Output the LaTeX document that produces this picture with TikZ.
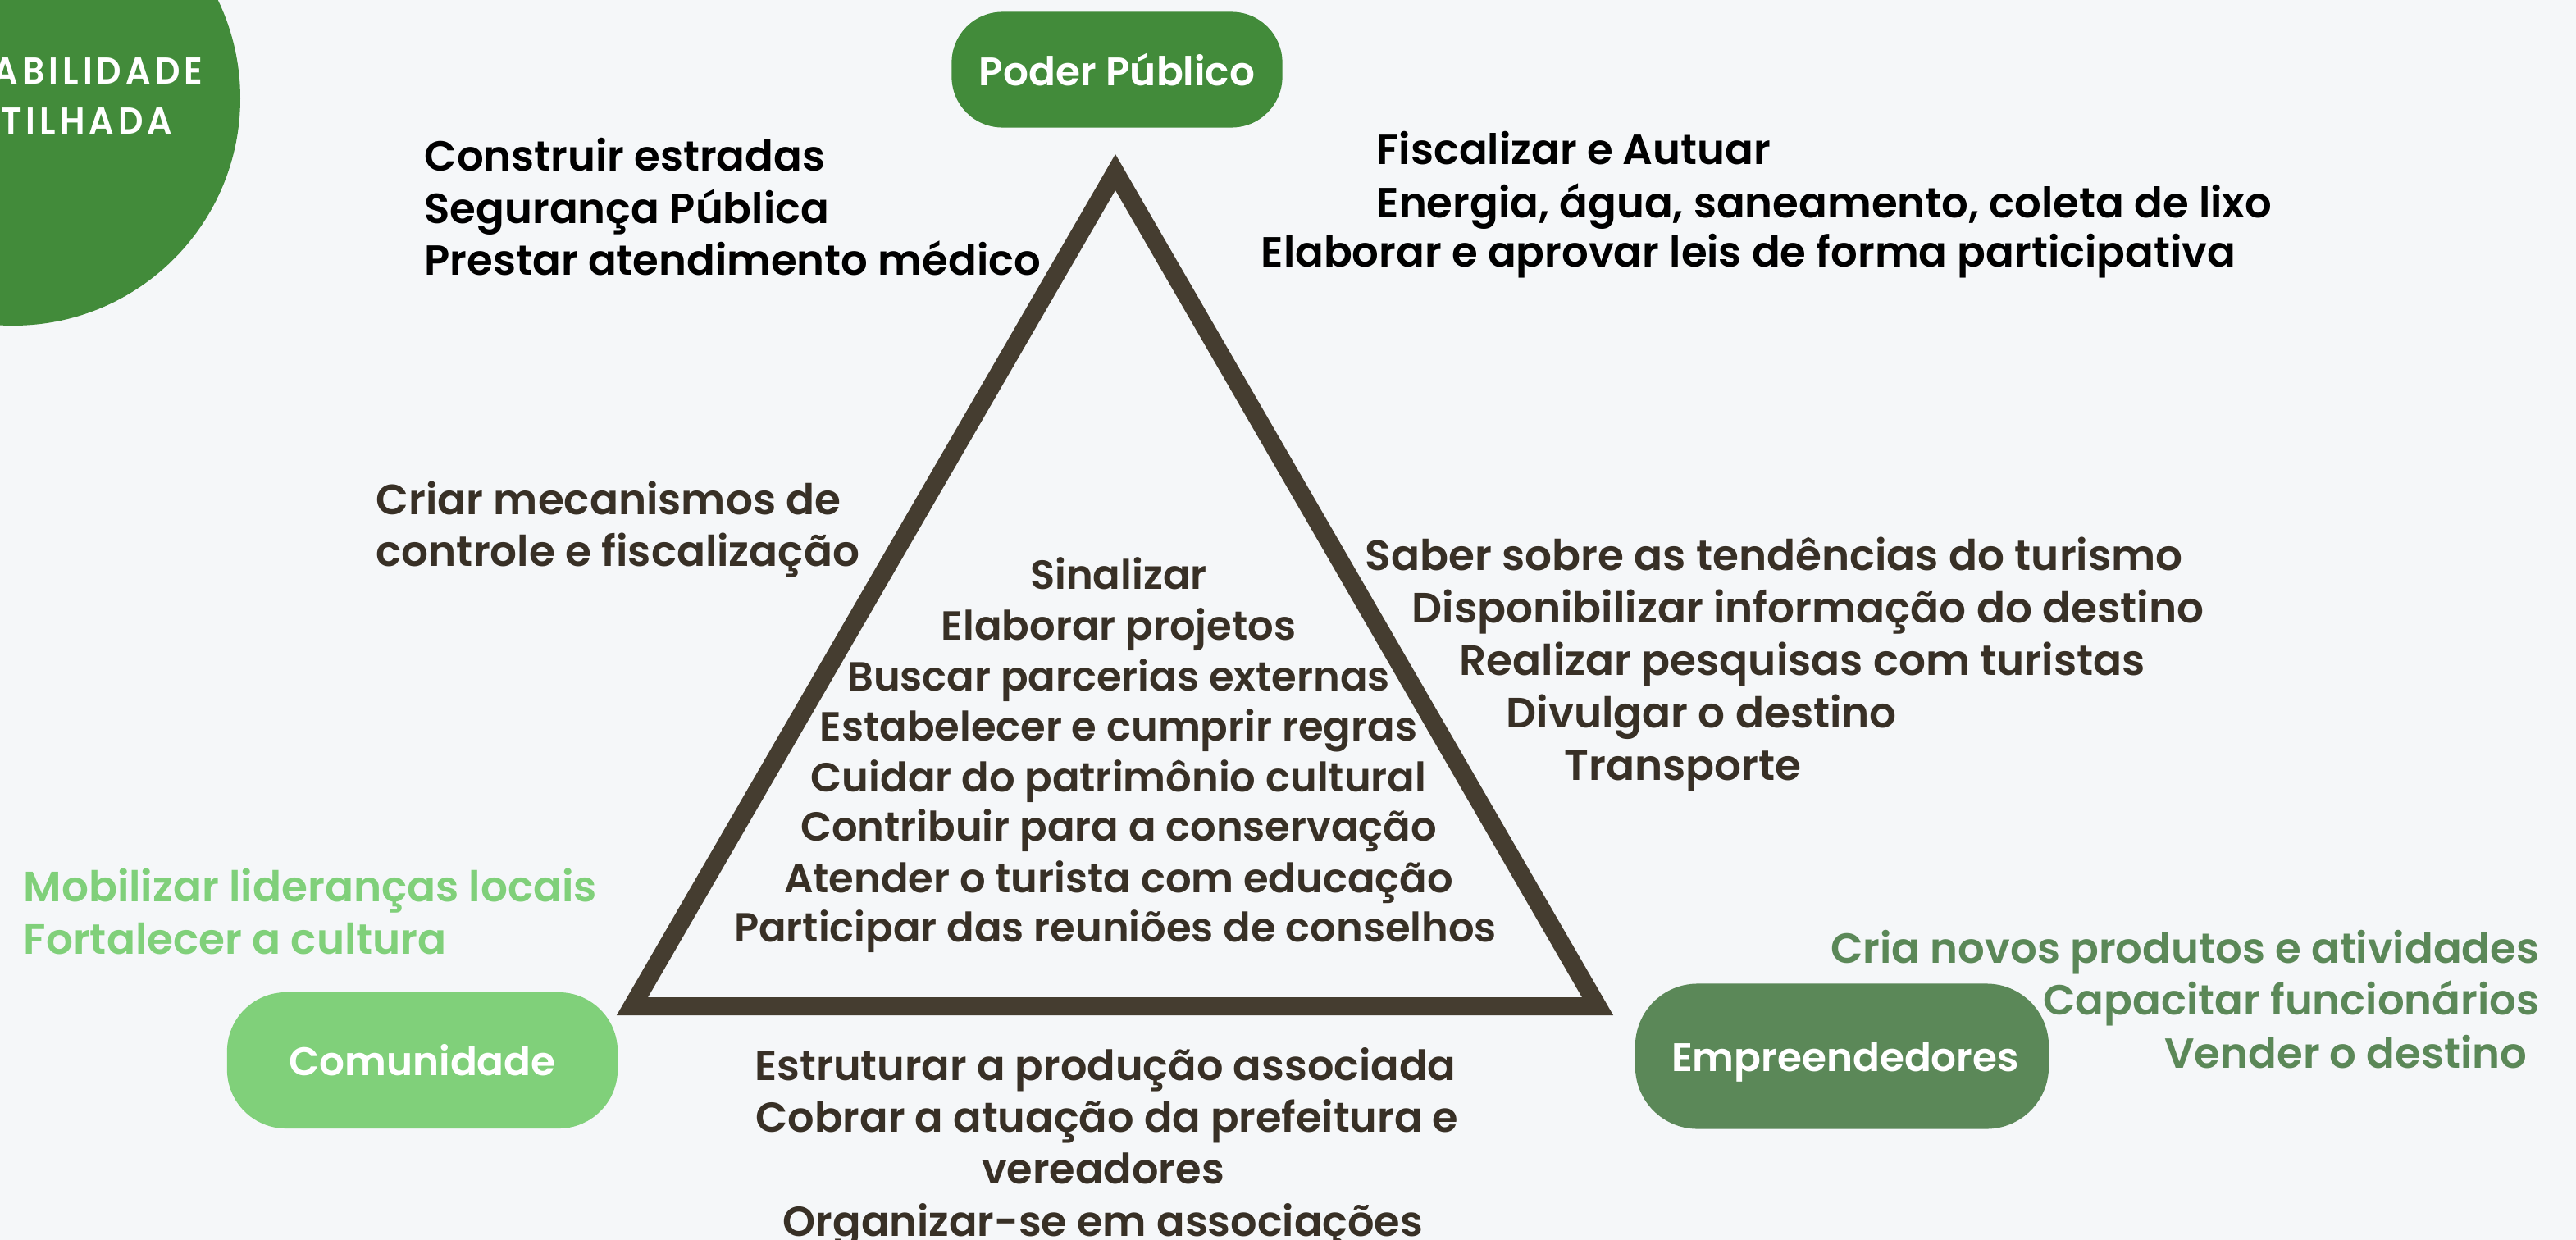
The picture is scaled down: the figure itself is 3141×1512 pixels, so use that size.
\documentclass[tikz,border=0pt]{standalone}
\usepackage{fontspec}
\setmainfont{Poppins}
\newfontfamily\semib{Poppins SemiBold}
\definecolor{fundo}{HTML}{F5F7F9}
\definecolor{verde}{HTML}{428B3A}
\definecolor{claro}{HTML}{80D07A}
\definecolor{musgo}{HTML}{5B8858}
\definecolor{marrom}{HTML}{453D30}
\definecolor{escuro}{HTML}{383026}
\tikzset{
  pill/.style={rounded corners=0.62cm,text=white,inner sep=0pt,
    font=\semib\fontsize{13.8}{16}\selectfont},
  preto/.style={text=black,font=\semib\fontsize{14.6}{17}\selectfont},
  dentro/.style={text=escuro,font=\semib\fontsize{14.1}{17}\selectfont},
  lado/.style={text=escuro,font=\semib\fontsize{14.7}{17}\selectfont},
  baixo/.style={text=escuro,font=\semib\fontsize{14.5}{17}\selectfont},
  vclaro/.style={text=claro,font=\semib\fontsize{14.7}{17}\selectfont},
  vmusgo/.style={text=musgo,font=\semib\fontsize{14.6}{17}\selectfont},
  titulo/.style={anchor=base east,text=white,font=\semib\fontsize{13}{15}\selectfont}
}
\newcommand{\apertado}[1]{\scalebox{0.93}[1]{\addfontfeature{LetterSpace=12}#1}}
\begin{document}
\begin{tikzpicture}
  [x=0.01cm,y=-0.01cm,every node/.style={inner sep=0pt}]
  \clip (0,0) rectangle (3141,1512);
  \fill[fundo] (0,0) rectangle (3141,1512);

  % circulo do titulo
  \fill[verde] (16,120) circle (277);
  \node[titulo] (c1) at (248,102) {\apertado{RESPONSABILIDADE}};
  \node[titulo] (c2) at (211,163) {\apertado{COMPARTILHADA}};

  % triangulo
  \coordinate (top) at (1360,210);
  \coordinate (left) at (771,1227);
  \coordinate (right) at (1948,1227);
  \draw[marrom,line width=0.22cm] (top) -- (left) -- (right) -- cycle;

  % atores
  \node[pill,fill=verde,minimum width=4.03cm,minimum height=1.41cm] (poder) at (1362,85) {Poder Público};
  \node[pill,fill=claro,minimum width=4.76cm,minimum height=1.66cm,rounded corners=0.72cm] (comunidade) at (515,1293) {Comunidade};
  \node[pill,fill=musgo,minimum width=5.04cm,minimum height=1.77cm,rounded corners=0.76cm] (empreendedores) at (2246,1288) {};
  \node[pill,anchor=base] (emp) at (2250,1306) {Empreendedores};

  % poder publico
  \node[preto,anchor=base west] (0) at (517,208) {Construir estradas};
  \node[preto,anchor=base west] (1) at (517,272) {Segurança Pública};
  \node[preto,anchor=base west] (2) at (517,335) {Prestar atendimento médico};
  \node[preto,anchor=base west] (3) at (1678,200) {Fiscalizar e Autuar};
  \node[preto,anchor=base west] (4) at (1678,265) {Energia, água, saneamento, coleta de lixo};
  \node[preto,anchor=base west] (5) at (1537,325) {Elaborar e aprovar leis de forma participativa};

  % laterais
  \node[lado,anchor=base west] (6) at (458,627) {Criar mecanismos de};
  \node[lado,anchor=base west] (7) at (458,690) {controle e fiscalização};
  \node[lado,anchor=base west] (8) at (1664,695) {Saber sobre as tendências do turismo};
  \node[lado,anchor=base west] (9) at (1721,759) {Disponibilizar informação do destino};
  \node[lado,anchor=base west] (10) at (1779,823) {Realizar pesquisas com turistas};
  \node[lado,anchor=base west] (11) at (1836,887) {Divulgar o destino};
  \node[lado,anchor=base west] (12) at (1907,951) {Transporte};

  % dentro do triangulo
  \node[dentro,anchor=base] (13) at (1364,718) {Sinalizar};
  \node[dentro,anchor=base] (14) at (1364,780) {Elaborar projetos};
  \node[dentro,anchor=base] (15) at (1364,842) {Buscar parcerias externas};
  \node[dentro,anchor=base] (16) at (1364,903) {Estabelecer e cumprir regras};
  \node[dentro,anchor=base] (17) at (1364,965) {Cuidar do patrimônio cultural};
  \node[dentro,anchor=base] (18) at (1364,1025) {Contribuir para a conservação};
  \node[dentro,anchor=base] (19) at (1364,1088) {Atender o turista com educação};
  \node[dentro,anchor=base] (20) at (1360,1148) {Participar das reuniões de conselhos};

  % comunidade
  \node[baixo,anchor=base] (21) at (1348,1317) {Estruturar a produção associada};
  \node[baixo,anchor=base] (22) at (1350,1380) {Cobrar a atuação da prefeitura e};
  \node[baixo,anchor=base] (23) at (1345,1443) {vereadores};
  \node[baixo,anchor=base] (24) at (1345,1507) {Organizar-se em associações};
  \node[vclaro,anchor=base west] (25) at (28,1099) {Mobilizar lideranças locais};
  \node[vclaro,anchor=base west] (26) at (28,1163) {Fortalecer a cultura};

  % empreendedores
  \node[vmusgo,anchor=base east] (27) at (3097,1174) {Cria novos produtos e atividades};
  \node[vmusgo,anchor=base east] (28) at (3097,1237) {Capacitar funcionários};
  \node[vmusgo,anchor=base east] (29) at (3082,1302) {Vender o destino};
\end{tikzpicture}
\end{document}
